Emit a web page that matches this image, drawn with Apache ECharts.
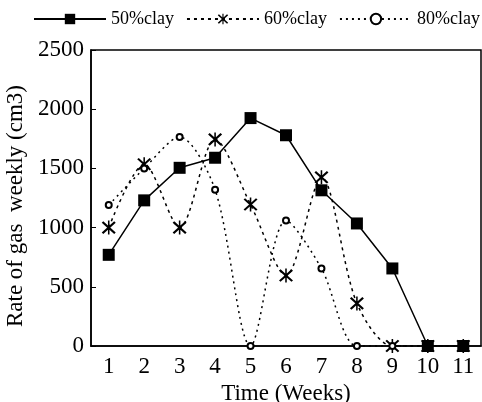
<!DOCTYPE html>
<html>
<head>
<meta charset="utf-8">
<script src="https://cdn.jsdelivr.net/npm/echarts@6/dist/echarts.min.js"></script>
<style>
  html, body { margin: 0; padding: 0; background: #fff; }
  #echarts1 { width: 482px; height: 402px; }
</style>
</head>
<body>
<div id="echarts1"></div>
<script>
var weeks = ['1', '2', '3', '4', '5', '6', '7', '8', '9', '10', '11']
var clay50 = [770, 1230, 1505, 1590, 1925, 1780, 1315, 1035, 655, 0, 0]
var clay60 = [1000, 1535, 1000, 1745, 1195, 595, 1425, 360, 0, 0, 0]
var clay80 = [1190, 1500, 1765, 1320, 0, 1060, 655, 0, 0, 0, 0]
var yTicks = [0, 500, 1000, 1500, 2000, 2500]

var serif = 'Liberation Serif'
// asterisk: vertical bar + two diagonals
var starPath = 'path://M9 0H11V20H9Z M1 3L3 1L19 17L17 19Z M17 1L19 3L3 19L1 17Z'

var myChart = echarts.init(document.getElementById('echarts1'))
var option = {
  backgroundColor: '#fff',
  animation: false,
  textStyle: { fontFamily: serif, color: '#000' },
  legend: {
    top: 10,
    left: 33,
    width: 449,
    padding: 0,
    itemWidth: 72,
    itemHeight: 13,
    itemGap: 12,
    textStyle: { fontFamily: serif, fontSize: 18, color: '#000' },
    data: ['50%clay', '60%clay', '80%clay']
  },
  grid: {
    show: true,
    outerBoundsMode: 'none',
    containLabel: false,
    borderColor: '#000',
    borderWidth: 1.5,
    top: 50,
    left: 91,
    right: 1,
    bottom: 56
  },
  xAxis: {
    type: 'category',
    data: weeks,
    boundaryGap: true,
    name: 'Time (Weeks)',
    nameLocation: 'middle',
    nameGap: 31,
    nameTextStyle: { fontFamily: serif, fontSize: 23, color: '#000' },
    axisLine: { lineStyle: { color: '#000', width: 1.5 } },
    axisTick: { inside: true, length: 6, lineStyle: { color: '#000' } },
    axisLabel: { fontFamily: serif, fontSize: 23, color: '#000', margin: 9 }
  },
  yAxis: {
    type: 'value',
    min: yTicks[0],
    max: yTicks[yTicks.length - 1],
    interval: 500,
    name: 'Rate of gas  weekly (cm3)',
    nameLocation: 'middle',
    nameGap: 49,
    nameTextStyle: { fontFamily: serif, fontSize: 23, color: '#000', padding: [0, 16, 0, 0] },
    splitLine: { show: false },
    axisLine: { show: true, lineStyle: { color: '#000', width: 1.5 } },
    axisTick: { show: true, inside: true, length: 5, lineStyle: { color: '#000' } },
    axisLabel: {
      fontFamily: serif,
      fontSize: 23,
      color: '#000',
      margin: 7,
      formatter: function (v) { return String(v) }
    }
  },
  series: [
    {
      name: '50%clay',
      type: 'line',
      data: clay50,
      symbol: 'rect',
      symbolSize: 12,
      itemStyle: { color: '#000' },
      lineStyle: { color: '#000', width: 1.5, type: 'solid' },
      z: 3
    },
    {
      name: '60%clay',
      type: 'line',
      data: clay60,
      smooth: 0.3,
      symbol: starPath,
      symbolSize: 14,
      itemStyle: { color: '#000' },
      lineStyle: { color: '#000', width: 1.5, type: [3, 4] },
      z: 2
    },
    {
      name: '80%clay',
      type: 'line',
      data: clay80,
      smooth: 0.3,
      symbol: 'emptyCircle',
      symbolSize: 6,
      itemStyle: { color: '#000', borderColor: '#000', borderWidth: 1.5 },
      lineStyle: { color: '#000', width: 1.5, type: [2, 4] },
      z: 2
    }
  ]
}
myChart.setOption(option)
</script>
</body>
</html>
